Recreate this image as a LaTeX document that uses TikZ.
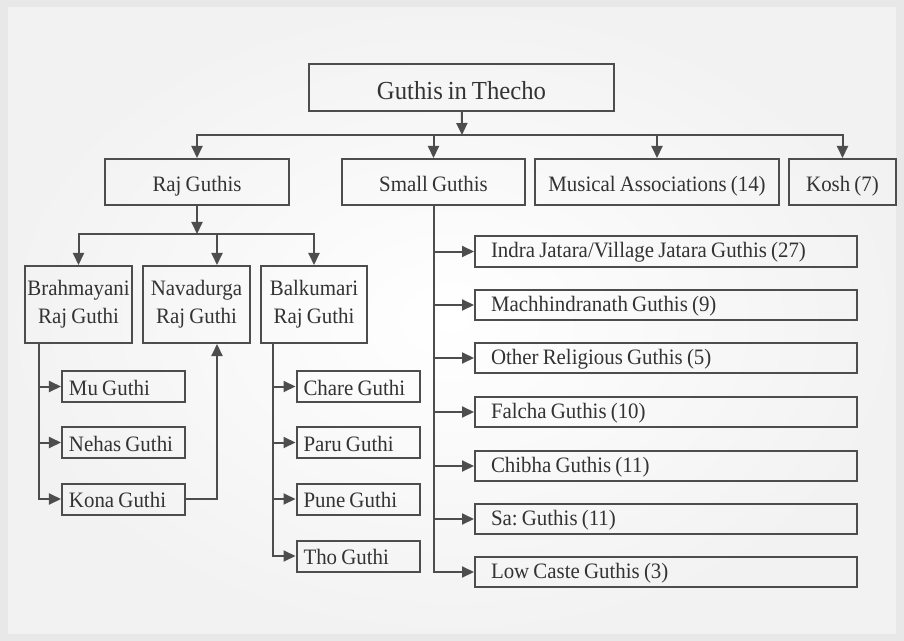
\documentclass[tikz,border=0pt]{standalone}
\usepackage{fontspec}
\setmainfont{Liberation Serif}[FakeStretch=0.95, WordSpace=0.8]
\usetikzlibrary{arrows.meta}

\definecolor{linegray}{HTML}{4D4D4D}
\definecolor{textgray}{HTML}{333333}
\definecolor{bgedge}{HTML}{E8E8E8}

\tikzset{
    box/.style={draw=linegray, line width=2bp, text=textgray,
        font=\fontsize{22bp}{28bp}\selectfont\frenchspacing, inner sep=2bp},
    headbox/.style={box, minimum height=46bp, text height=22bp, text depth=2bp},
    subbox/.style={box, minimum width=123bp, minimum height=31bp,
        text height=19bp, text depth=2bp,
        text width=109bp, inner xsep=7bp, align=flush left},
    smallbox/.style={box, minimum width=382bp, minimum height=30bp,
        text height=17bp, text depth=4bp,
        text width=350bp, inner xsep=16bp, align=flush left},
    arr/.style={draw=linegray, line width=2bp,
        -{Triangle[length=12bp,width=11bp]}},
}

\begin{document}
\begin{tikzpicture}[x=1bp, y=-1bp]
        \fill[bgedge] (0,0) rectangle (904,641);
        \shade[inner color=white, outer color=black!5] (8,8) rectangle (896,633);

        \node[box, minimum width=305bp, minimum height=47bp, text height=27bp, text depth=2bp,
            font=\fontsize{26bp}{30bp}\selectfont] (thecho) at (461.5, 87.5) {Guthis in Thecho};
        \coordinate (hub) at (462, 135);

        \node[headbox, minimum width=184bp] (raj) at (197, 182) {Raj Guthis};
        \node[headbox, minimum width=183bp] (small) at (433.5, 182) {Small Guthis};
        \node[headbox, minimum width=244bp] (music) at (657, 182) {Musical Associations (14)};
        \node[headbox, minimum width=107bp] (kosh) at (842.5, 182) {Kosh (7)};

        \draw[arr] (thecho) -- (hub);
        \draw[arr] (hub) -| (raj);
        \draw[arr] (hub) -| (small);
        \draw[arr] (hub) -| (music);
        \draw[arr] (hub) -| (kosh);

        % raj guthis
        \coordinate (rajhub) at (197, 234);
        \node[box, minimum width=107bp, minimum height=77bp, align=center] (brah) at (78.5, 304.5) {Brahmayani\\Raj Guthi};
        \node[box, minimum width=107bp, minimum height=77bp, align=center] (nava) at (196.5, 304.5) {Navadurga\\Raj Guthi};
        \node[box, minimum width=106bp, minimum height=77bp, align=center] (balk) at (314, 304.5) {Balkumari\\Raj Guthi};

        \draw[arr] (raj) -- (rajhub);
        \draw[arr] (rajhub) -| (brah);
        \draw[arr] (rajhub) -| ([xshift=20.5bp]nava.north);
        \draw[arr] (rajhub) -| (balk);

        \node[subbox] (mu) at (123.5, 386.5) {Mu Guthi};
        \node[subbox] (nehas) at (123.5, 442.5) {Nehas Guthi};
        \node[subbox] (kona) at (123.5, 499) {Kona Guthi};

        \draw[arr] ([xshift=15bp]brah.south west) |- (mu);
        \draw[arr] ([xshift=15bp]brah.south west) |- (nehas);
        \draw[arr] ([xshift=15bp]brah.south west) |- (kona);
        \draw[arr] (kona) -| ([xshift=20.5bp]nava.south);

        \node[subbox] (chare) at (358, 386.5) {Chare Guthi};
        \node[subbox] (paru) at (358, 442.5) {Paru Guthi};
        \node[subbox] (pune) at (358, 499) {Pune Guthi};
        \node[subbox] (tho) at (358, 556) {Tho Guthi};

        \draw[arr] ([xshift=13bp]balk.south west) |- (chare);
        \draw[arr] ([xshift=13bp]balk.south west) |- (paru);
        \draw[arr] ([xshift=13bp]balk.south west) |- (pune);
        \draw[arr] ([xshift=13bp]balk.south west) |- (tho);

        % small guthis
        \node[smallbox] (indra) at (666, 251.5) {Indra Jatara/Village Jatara Guthis (27)};
        \node[smallbox] (machh) at (666, 305) {Machhindranath Guthis (9)};
        \node[smallbox] (other) at (666, 358) {Other Religious Guthis (5)};
        \node[smallbox] (falcha) at (666, 412) {Falcha Guthis (10)};
        \node[smallbox] (chibha) at (666, 466) {Chibha Guthis (11)};
        \node[smallbox] (sa) at (666, 519) {Sa: Guthis (11)};
        \node[smallbox] (low) at (666, 572) {Low Caste Guthis (3)};

        \draw[arr] (small) |- (indra);
        \draw[arr] (small) |- (machh);
        \draw[arr] (small) |- (other);
        \draw[arr] (small) |- (falcha);
        \draw[arr] (small) |- (chibha);
        \draw[arr] (small) |- (sa);
        \draw[arr] (small) |- (low);

    \end{tikzpicture}
\end{document}
